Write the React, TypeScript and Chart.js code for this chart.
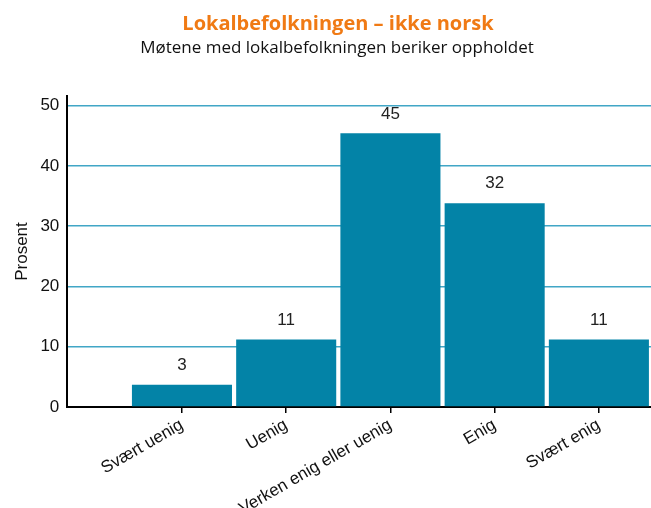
import React, { useEffect, useRef } from "react";
import { Chart, registerables } from "chart.js";

Chart.register(...registerables);

const categories = ["Svært uenig", "Uenig", "Verken enig eller uenig", "Enig", "Svært enig"];
const values = [3.7, 11.2, 45.4, 33.8, 11.2];
const valueLabels = ["3", "11", "45", "32", "11"];
const yTicks = [0, 10, 20, 30, 40, 50];

const titleText = "Lokalbefolkningen – ikke norsk";
const subtitleText = "Møtene med lokalbefolkningen beriker oppholdet";
const yTitle = "Prosent";

const FONT = "'Liberation Sans', Arial, sans-serif";

const valueLabelPlugin = {
  id: "valueLabels",
  afterDatasetsDraw(chart: any) {
    const ctx = chart.ctx;
    const meta = chart.getDatasetMeta(0);
    ctx.save();
    ctx.font = "17px " + FONT;
    ctx.fillStyle = "#222222";
    ctx.textAlign = "center";
    ctx.textBaseline = "middle";
    meta.data.forEach((el: any, i: number) => {
      ctx.fillText(valueLabels[i], el.x, el.y - 19.5);
    });
    ctx.restore();
  },
};

const headingPlugin = {
  id: "heading",
  afterDraw(chart: any) {
    const ctx = chart.ctx;
    ctx.save();
    ctx.textAlign = "center";
    ctx.textBaseline = "alphabetic";
    ctx.fillStyle = "#f07a14";
    ctx.font = "bold 20px 'Open Sans', sans-serif";
    ctx.fillText(titleText, 338, 29.5);
    ctx.fillStyle = "#111111";
    ctx.font = "17px 'Open Sans', sans-serif";
    ctx.fillText(subtitleText, 337, 53);
    ctx.restore();
  },
};

export default function App() {
  const ref = useRef<HTMLCanvasElement | null>(null);

  useEffect(() => {
    document.body.style.margin = "0";
    if (!ref.current) return;
    const chart = new Chart(ref.current, {
      type: "bar",
      data: {
        datasets: [
          {
            data: values.map((v, i) => ({ x: i, y: v })),
            backgroundColor: "#0383a7",
            borderWidth: 0,
            barPercentage: 0.96,
            categoryPercentage: 1,
          },
        ],
      },
      plugins: [valueLabelPlugin, headingPlugin],
      options: {
        animation: false,
        responsive: false,
        maintainAspectRatio: false,
        layout: { padding: { left: 12, right: 0, top: 96, bottom: 0 } },
        plugins: {
          legend: { display: false },
          tooltip: { enabled: false },
          title: { display: false },
          subtitle: { display: false },
        },
        scales: {
          x: {
            type: "linear",
            offset: false,
            min: -1.1,
            max: 4.5,
            afterBuildTicks: (scale: any) => {
              scale.ticks = categories.map((_, i) => ({ value: i }));
            },
            afterFit: (scale: any) => {
              scale.height = 101;
            },
            ticks: {
              autoSkip: false,
              minRotation: 30,
              maxRotation: 30,
              color: "#111111",
              font: { family: FONT, size: 17 },
              padding: 2,
              callback: (v: any) => categories[v as number] ?? "",
            },
            grid: {
              display: true,
              offset: false,
              drawOnChartArea: false,
              drawTicks: true,
              tickLength: 6,
              color: "#000000",
              lineWidth: 1.5,
            },
            border: { display: true, color: "#000000", width: 2 },
          },
          y: {
            min: 0,
            max: 51.6,
            afterBuildTicks: (scale: any) => {
              scale.ticks = yTicks.map((v) => ({ value: v }));
            },
            ticks: {
              color: "#111111",
              font: { family: FONT, size: 17 },
              padding: 8,
            },
            grid: {
              color: "#41a6c6",
              lineWidth: 1.4,
              drawTicks: false,
            },
            border: { display: true, color: "#000000", width: 2 },
            title: {
              display: true,
              text: yTitle,
              color: "#111111",
              font: { family: FONT, size: 17 },
              padding: { top: 0, bottom: 0 },
            },
          },
        },
      },
    });
    return () => chart.destroy();
  }, []);

  return (
    <div style={{ width: 651, height: 508 }}>
      <canvas ref={ref} width={651} height={508} style={{ display: "block" }} />
    </div>
  );
}
